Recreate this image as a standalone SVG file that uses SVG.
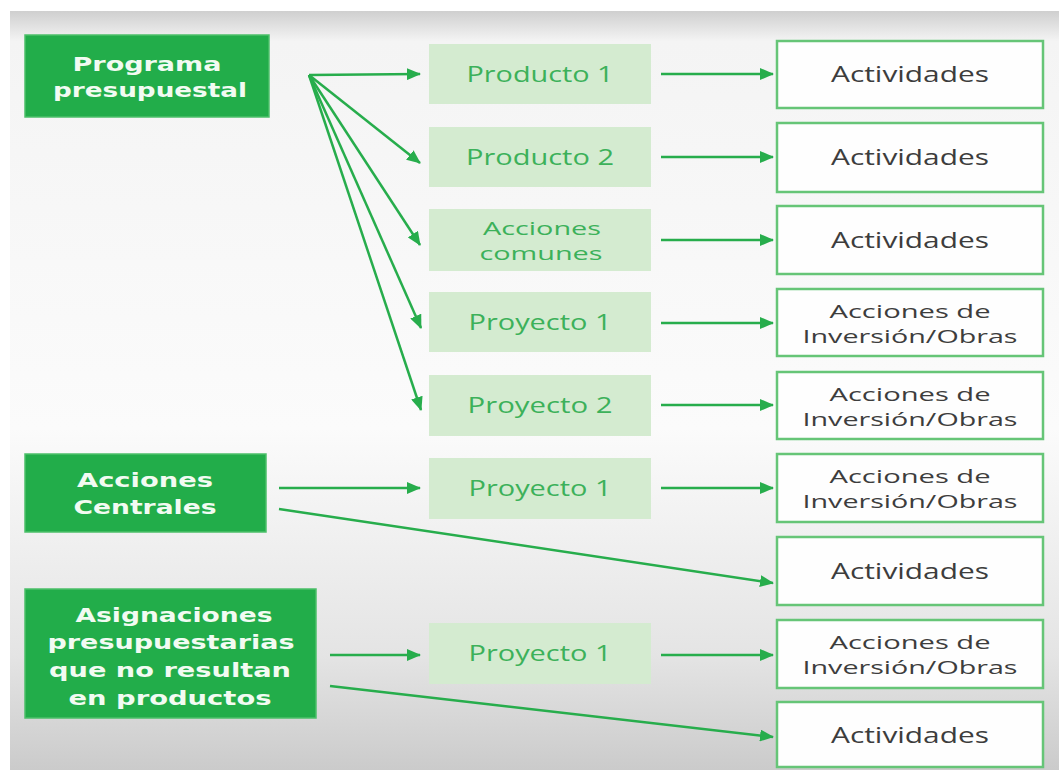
<svg xmlns="http://www.w3.org/2000/svg" width="1059" height="770" viewBox="0 0 1059 770">
<defs>
<linearGradient id="bg" x1="0" y1="0" x2="0" y2="1">
<stop offset="0" stop-color="#cfcfcf"/>
<stop offset="0.04" stop-color="#f4f4f4"/>
<stop offset="0.55" stop-color="#fbfbfb"/>
<stop offset="0.85" stop-color="#e4e4e4"/>
<stop offset="1" stop-color="#cbcbcb"/>
</linearGradient>
<marker id="ah" markerUnits="userSpaceOnUse" markerWidth="14" markerHeight="12" refX="13" refY="6" orient="auto">
<path d="M0,0 L14,6 L0,12 z" fill="#27ad4c"/>
</marker>
<style>
.dark{fill:#22ad4a;stroke:#4cc06a;stroke-width:1.5}
.mid{fill:#d4ebd0}
.out{fill:#fefefe;stroke:#66c577;stroke-width:2.5}
.tl{font-family:"DejaVu Sans",sans-serif;font-weight:bold;font-size:20px;fill:#f2fbf2;text-anchor:middle}
.tm{font-family:"Open Sans",sans-serif;font-size:21px;font-weight:500;fill:#3cb15a;text-anchor:middle}
.tr{font-family:"Open Sans",sans-serif;font-size:21px;fill:#3d3d3d;text-anchor:middle}
.two{font-size:18.5px}
.c{fill:none;stroke:#27ad4c;stroke-width:2.5;marker-end:url(#ah)}
</style>
</defs>
<rect x="0" y="0" width="1059" height="770" fill="#ffffff"/>
<rect x="10" y="11" width="1049" height="759" fill="url(#bg)"/>

<g id="connectors">
<line class="c" x1="309" y1="75" x2="420" y2="74"/>
<line class="c" x1="309" y1="75" x2="420" y2="163"/>
<line class="c" x1="309" y1="75" x2="420" y2="245"/>
<line class="c" x1="309" y1="75" x2="421" y2="328"/>
<line class="c" x1="309" y1="75" x2="421" y2="410"/>
<line class="c" x1="279" y1="488" x2="420" y2="488"/>
<line class="c" x1="279" y1="509" x2="773" y2="583"/>
<line class="c" x1="330" y1="655" x2="420" y2="655"/>
<line class="c" x1="330" y1="686" x2="773" y2="737"/>
<line class="c" x1="661" y1="74" x2="773" y2="74"/>
<line class="c" x1="661" y1="157" x2="773" y2="157"/>
<line class="c" x1="661" y1="240" x2="773" y2="240"/>
<line class="c" x1="661" y1="323" x2="773" y2="323"/>
<line class="c" x1="661" y1="405" x2="773" y2="405"/>
<line class="c" x1="661" y1="488" x2="773" y2="488"/>
<line class="c" x1="661" y1="655" x2="773" y2="655"/>
</g>

<g id="programa">
<rect class="dark" x="25" y="35" width="244" height="82"/>
<text class="tl" x="147" y="71" textLength="149" lengthAdjust="spacingAndGlyphs">Programa</text>
<text class="tl" x="150" y="97" textLength="194" lengthAdjust="spacingAndGlyphs">presupuestal</text>
</g>
<g id="acciones-centrales">
<rect class="dark" x="25" y="454" width="241" height="78"/>
<text class="tl" x="145" y="487" textLength="136" lengthAdjust="spacingAndGlyphs">Acciones</text>
<text class="tl" x="145" y="514" textLength="143" lengthAdjust="spacingAndGlyphs">Centrales</text>
</g>
<g id="asignaciones">
<rect class="dark" x="25" y="589" width="291" height="129"/>
<text class="tl" x="174" y="622" textLength="197" lengthAdjust="spacingAndGlyphs">Asignaciones</text>
<text class="tl" x="171" y="649" textLength="247" lengthAdjust="spacingAndGlyphs">presupuestarias</text>
<text class="tl" x="170" y="677" textLength="242" lengthAdjust="spacingAndGlyphs">que no resultan</text>
<text class="tl" x="170" y="705" textLength="203" lengthAdjust="spacingAndGlyphs">en productos</text>
</g>

<g id="producto1">
<rect class="mid" x="429" y="44" width="222" height="60"/>
<text class="tm" x="540" y="82" textLength="147" lengthAdjust="spacingAndGlyphs">Producto 1</text>
</g>
<g id="producto2">
<rect class="mid" x="429" y="127" width="222" height="60"/>
<text class="tm" x="540" y="165" textLength="148" lengthAdjust="spacingAndGlyphs">Producto 2</text>
</g>
<g id="acciones-comunes">
<rect class="mid" x="429" y="209" width="222" height="62"/>
<text class="tm two" x="542" y="235" textLength="118" lengthAdjust="spacingAndGlyphs">Acciones</text>
<text class="tm two" x="541" y="260" textLength="123" lengthAdjust="spacingAndGlyphs">comunes</text>
</g>
<g id="proyecto1-pp">
<rect class="mid" x="429" y="292" width="222" height="60"/>
<text class="tm" x="540" y="330" textLength="143" lengthAdjust="spacingAndGlyphs">Proyecto 1</text>
</g>
<g id="proyecto2-pp">
<rect class="mid" x="429" y="375" width="222" height="61"/>
<text class="tm" x="540" y="413" textLength="145" lengthAdjust="spacingAndGlyphs">Proyecto 2</text>
</g>
<g id="proyecto1-ac">
<rect class="mid" x="429" y="458" width="222" height="61"/>
<text class="tm" x="540" y="496" textLength="143" lengthAdjust="spacingAndGlyphs">Proyecto 1</text>
</g>
<g id="proyecto1-asig">
<rect class="mid" x="429" y="623" width="222" height="61"/>
<text class="tm" x="540" y="661" textLength="143" lengthAdjust="spacingAndGlyphs">Proyecto 1</text>
</g>

<g id="act1">
<rect class="out" x="777" y="41" width="266" height="67"/>
<text class="tr" x="910" y="82" textLength="158" lengthAdjust="spacingAndGlyphs">Actividades</text>
</g>
<g id="act2">
<rect class="out" x="777" y="123" width="266" height="69"/>
<text class="tr" x="910" y="165" textLength="158" lengthAdjust="spacingAndGlyphs">Actividades</text>
</g>
<g id="act3">
<rect class="out" x="777" y="206" width="266" height="68"/>
<text class="tr" x="910" y="248" textLength="158" lengthAdjust="spacingAndGlyphs">Actividades</text>
</g>
<g id="inv1">
<rect class="out" x="777" y="289" width="266" height="67"/>
<text class="tr two" x="910" y="318" textLength="161" lengthAdjust="spacingAndGlyphs">Acciones de</text>
<text class="tr two" x="910" y="343" textLength="215" lengthAdjust="spacingAndGlyphs">Inversión/Obras</text>
</g>
<g id="inv2">
<rect class="out" x="777" y="372" width="266" height="67"/>
<text class="tr two" x="910" y="401" textLength="161" lengthAdjust="spacingAndGlyphs">Acciones de</text>
<text class="tr two" x="910" y="426" textLength="215" lengthAdjust="spacingAndGlyphs">Inversión/Obras</text>
</g>
<g id="inv3">
<rect class="out" x="777" y="454" width="266" height="68"/>
<text class="tr two" x="910" y="483" textLength="161" lengthAdjust="spacingAndGlyphs">Acciones de</text>
<text class="tr two" x="910" y="508" textLength="215" lengthAdjust="spacingAndGlyphs">Inversión/Obras</text>
</g>
<g id="act4">
<rect class="out" x="777" y="537" width="266" height="68"/>
<text class="tr" x="910" y="579" textLength="158" lengthAdjust="spacingAndGlyphs">Actividades</text>
</g>
<g id="inv4">
<rect class="out" x="777" y="620" width="266" height="68"/>
<text class="tr two" x="910" y="649" textLength="161" lengthAdjust="spacingAndGlyphs">Acciones de</text>
<text class="tr two" x="910" y="674" textLength="215" lengthAdjust="spacingAndGlyphs">Inversión/Obras</text>
</g>
<g id="act5">
<rect class="out" x="777" y="702" width="266" height="65"/>
<text class="tr" x="910" y="743" textLength="158" lengthAdjust="spacingAndGlyphs">Actividades</text>
</g>
</svg>
